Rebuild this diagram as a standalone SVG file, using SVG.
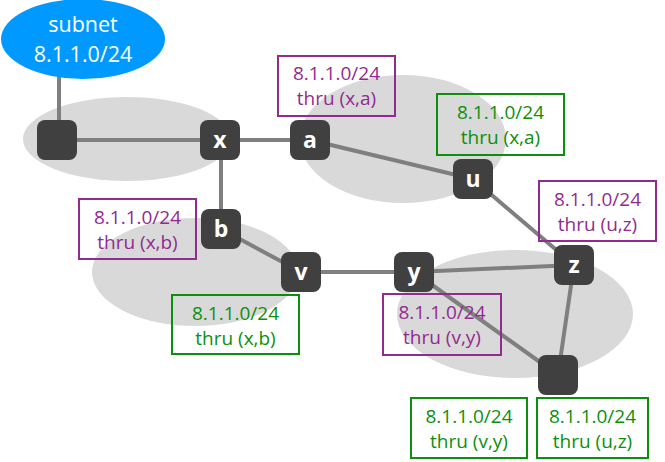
<svg xmlns="http://www.w3.org/2000/svg" width="665" height="462" viewBox="0 0 665 462">
<style>
.area{fill:#d9d9d9}
.edge{stroke:#7f7f7f;stroke-width:4;fill:none}
.node rect{fill:#404040}
.node text{fill:#fff;font-family:"Open Sans","Noto Sans",sans-serif;font-weight:bold;font-size:23px;text-anchor:middle}
.lbl text{font-family:"Open Sans","Noto Sans",sans-serif;font-size:19px;text-anchor:middle}
.p rect{fill:none;stroke:#922b90;stroke-width:2}
.p text{fill:#922b90}
.g rect{fill:none;stroke:#0c900c;stroke-width:2}
.g text{fill:#0c900c}
</style>
<rect width="665" height="462" fill="#fff"/>
<g id="areas">
<ellipse class="area" cx="127" cy="139" rx="104" ry="42"/>
<ellipse class="area" cx="403" cy="139" rx="103" ry="64"/>
<ellipse class="area" cx="195" cy="272" rx="103" ry="54"/>
<ellipse class="area" cx="515" cy="314" rx="118" ry="64"/>
</g>
<g id="connectors">
<line class="edge" x1="59" y1="70" x2="59" y2="140"/>
<line class="edge" x1="57" y1="140" x2="220" y2="140"/>
<line class="edge" x1="220" y1="140" x2="310" y2="140"/>
<line class="edge" x1="221" y1="140" x2="221" y2="229"/>
<line class="edge" x1="310" y1="140" x2="473" y2="179"/>
<line class="edge" x1="473" y1="179" x2="574" y2="265"/>
<line class="edge" x1="221" y1="229" x2="301" y2="272"/>
<line class="edge" x1="301" y1="272" x2="414" y2="272"/>
<line class="edge" x1="414" y1="272" x2="574" y2="265"/>
<line class="edge" x1="574" y1="265" x2="558" y2="375"/>
<line class="edge" x1="414" y1="272" x2="558" y2="375"/>
</g>
<g id="subnet">
<ellipse cx="83" cy="39" rx="82" ry="40" fill="#0099ff"/>
<text x="83" y="32" fill="#fff" font-family="Open Sans, Noto Sans, sans-serif" font-size="21.5" text-anchor="middle">subnet</text>
<text x="83" y="62" fill="#fff" font-family="Open Sans, Noto Sans, sans-serif" font-size="21.5" text-anchor="middle">8.1.1.0/24</text>
</g>
<g id="lbl-xa-p" class="lbl p"><rect x="278" y="56" width="117" height="60"/><text x="336.5" y="80">8.1.1.0/24</text><text x="336.5" y="105">thru (x,a)</text></g>
<g id="lbl-xa-g" class="lbl g"><rect x="437" y="94" width="127" height="61"/><text x="500.5" y="119">8.1.1.0/24</text><text x="500.5" y="144">thru (x,a)</text></g>
<g id="lbl-uz-p" class="lbl p"><rect x="539" y="181" width="117" height="60"/><text x="597.5" y="206">8.1.1.0/24</text><text x="597.5" y="231">thru (u,z)</text></g>
<g id="lbl-xb-p" class="lbl p"><rect x="79" y="199" width="117" height="60"/><text x="137.5" y="224">8.1.1.0/24</text><text x="137.5" y="249">thru (x,b)</text></g>
<g id="lbl-xb-g" class="lbl g"><rect x="172" y="295" width="127" height="59"/><text x="235.5" y="320">8.1.1.0/24</text><text x="235.5" y="345">thru (x,b)</text></g>
<g id="lbl-vy-p" class="lbl p"><rect x="383" y="294" width="118" height="61"/><text x="442" y="319">8.1.1.0/24</text><text x="442" y="344">thru (v,y)</text></g>
<g id="lbl-vy-g" class="lbl g"><rect x="411" y="398" width="116" height="60"/><text x="469" y="423">8.1.1.0/24</text><text x="469" y="448">thru (v,y)</text></g>
<g id="lbl-uz-g" class="lbl g"><rect x="537" y="398" width="111" height="60"/><text x="592.5" y="423">8.1.1.0/24</text><text x="592.5" y="448">thru (u,z)</text></g>
<g id="n-left" class="node"><rect x="37" y="120" width="40" height="40" rx="8"/></g>
<g id="n-x" class="node"><rect x="200" y="120" width="40" height="40" rx="8"/><text x="220" y="148">x</text></g>
<g id="n-a" class="node"><rect x="290" y="120" width="40" height="40" rx="8"/><text x="310" y="148">a</text></g>
<g id="n-u" class="node"><rect x="453" y="159" width="40" height="40" rx="8"/><text x="473" y="187">u</text></g>
<g id="n-b" class="node"><rect x="201" y="209" width="40" height="40" rx="8"/><text x="221" y="237">b</text></g>
<g id="n-v" class="node"><rect x="281" y="252" width="40" height="40" rx="8"/><text x="301" y="280">v</text></g>
<g id="n-y" class="node"><rect x="394" y="252" width="40" height="40" rx="8"/><text x="414" y="280">y</text></g>
<g id="n-z" class="node"><rect x="554" y="245" width="40" height="40" rx="8"/><text x="574" y="273">z</text></g>
<g id="n-bottom" class="node"><rect x="538" y="355" width="40" height="40" rx="8"/></g>
</svg>
